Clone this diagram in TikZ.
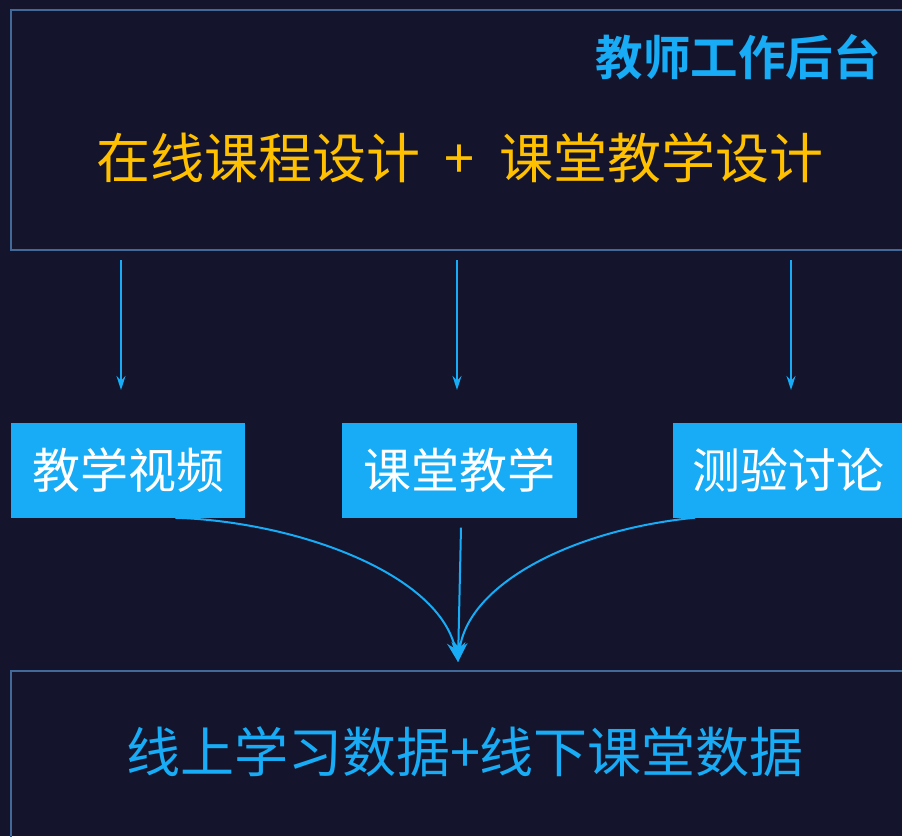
\documentclass[tikz,border=0pt]{standalone}
\usepackage{fontspec}
\setmainfont{Noto Sans CJK SC}
\newfontfamily\cjkbold{Noto Sans CJK SC Bold}
\usetikzlibrary{arrows.meta}
\definecolor{bgc}{HTML}{14152D}
\definecolor{framec}{HTML}{41699A}
\definecolor{bluec}{HTML}{17ACF5}
\definecolor{yellowc}{HTML}{FFC000}
\tikzset{
  frame/.style={draw=framec, line width=2pt},
  item/.style={fill=bluec, draw=none, minimum height=95pt, inner sep=0pt, text=white, font=\fontsize{48}{52}\selectfont},
  thinarrow/.style={draw=bluec, line width=1.5pt, -{Stealth[length=14pt,width=9pt]}},
  mergearrow/.style={draw=bluec, line width=2pt, -{Stealth[length=20pt,width=14pt]}},
}
\begin{document}
\begin{tikzpicture}[x=1pt,y=-1pt]
\useasboundingbox (0,0) rectangle (902,836);
\clip (0,0) rectangle (902,836);
\fill[bgc] (0,0) rectangle (902,836);
% top frame
\draw[frame] (11,10) rectangle (915,250);
\node[anchor=east, text=bluec, font=\cjkbold\fontsize{47.5}{50}\selectfont, inner sep=0pt] (head) at (881,57) {教师工作后台};
\node[text=yellowc, font=\fontsize{54}{58}\selectfont, inner sep=0pt] (design) at (460,158) {在线课程设计\hspace{25pt}+\hspace{25pt}课堂教学设计};
% top arrows
\coordinate (s1) at (121,260); \coordinate (e1) at (121,390);
\coordinate (s2) at (457,260); \coordinate (e2) at (457,390);
\coordinate (s3) at (791,260); \coordinate (e3) at (791,390);
\draw[thinarrow] (s1) -- (e1);
\draw[thinarrow] (s2) -- (e2);
\draw[thinarrow] (s3) -- (e3);
% items
\node[item, minimum width=234pt] (video) at (128,470) {教学视频};
\node[item, minimum width=235pt] (class) at (459.5,470) {课堂教学};
\node[item, minimum width=240pt, anchor=west] (quiz) at (673,470) {\hspace*{-5pt}测验讨论\hspace*{5pt}};
% bottom frame
\draw[frame] (11,671) rectangle (915,850);
\node[text=bluec, font=\fontsize{54}{58}\selectfont, inner sep=0pt] (data) at (465,752) {线上学习数据+线下课堂数据};
% merge arrows
\coordinate (tip) at (458,662);
\draw[mergearrow] ([xshift=-70pt]video.south east) .. controls (300,522) and (440,575) .. (tip);
\draw[mergearrow] (class.south) ++(1.5,10) -- (tip);
\draw[mergearrow] ([xshift=22pt]quiz.south west) .. controls (570,530) and (468,585) .. (tip);
\end{tikzpicture}
\end{document}
